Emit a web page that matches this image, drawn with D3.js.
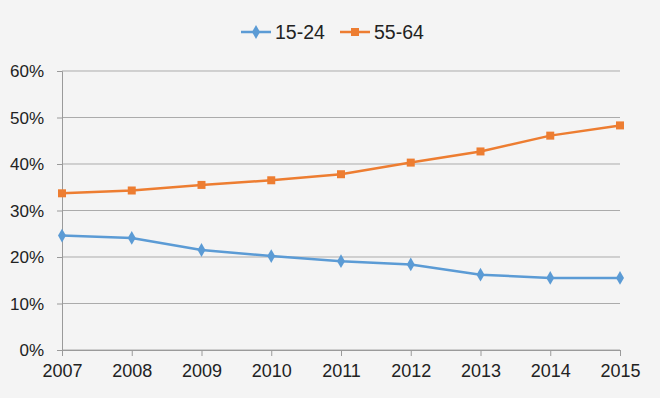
<!DOCTYPE html>
<html>
<head>
<meta charset="utf-8">
<script src="https://cdn.jsdelivr.net/npm/d3@7"></script>
<style>
  body { margin: 0; background: #f4f4f4; }
  svg { display: block; }
  text { font-family: "Liberation Sans", sans-serif; fill: #222; }
</style>
</head>
<body>
<svg id="svg"></svg>
<script>
var years = [2007, 2008, 2009, 2010, 2011, 2012, 2013, 2014, 2015];
var young = [24.6, 24.1, 21.5, 20.2, 19.1, 18.4, 16.2, 15.5, 15.5];
var old = [33.7, 34.3, 35.5, 36.5, 37.8, 40.3, 42.7, 46.1, 48.3];
var yTicks = [0, 10, 20, 30, 40, 50, 60];
var seriesNames = ["15-24", "55-64"];

var width = 660, height = 398;
var margin = {left: 62, right: 40, top: 71, bottom: 48};
var w = width - margin.left - margin.right;
var h = height - margin.top - margin.bottom;

var svg = d3.select("#svg").attr("width", width).attr("height", height);
svg.append("rect").attr("width", width).attr("height", height).attr("fill", "#f4f4f4");

var xScale = d3.scalePoint().domain(years).range([0, w]);
var yScale = d3.scaleLinear().domain([0, 60]).range([h, 0]);

var g = svg.append("g").attr("transform", `translate(${margin.left}, ${margin.top})`);

// gridlines
g.selectAll(".grid")
    .data(yTicks)
    .join("line")
    .attr("x1", 0)
    .attr("x2", w)
    .attr("y1", d => yScale(d))
    .attr("y2", d => yScale(d))
    .attr("stroke", "#ababab")
    .attr("stroke-width", 1);

// y axis
var yAxis = g.append("g")
    .call(d3.axisLeft(yScale).tickValues(yTicks).tickFormat(d => d + "%").tickSize(5).tickPadding(13));
yAxis.select(".domain").attr("stroke", "#9a9a9a");
yAxis.selectAll(".tick line").attr("stroke", "#9a9a9a");
yAxis.selectAll("text").style("font-size", "17px").attr("dy", "0.35em").attr("fill", "#222");

// x axis
var xAxis = g.append("g")
    .attr("transform", `translate(0, ${h})`)
    .call(d3.axisBottom(xScale).tickSize(6).tickPadding(8).tickSizeOuter(0));
xAxis.select(".domain").attr("stroke", "#9a9a9a");
xAxis.selectAll(".tick line").attr("stroke", "#9a9a9a");
xAxis.selectAll("text").style("font-size", "18px").attr("fill", "#222");

var line = d3.line()
    .x((d, i) => xScale(years[i]))
    .y(d => yScale(d));

var blue = "#5b9bd5", orange = "#ed7d31";

g.append("path").datum(young)
    .attr("fill", "none").attr("stroke", blue).attr("stroke-width", 2.5)
    .attr("stroke-linejoin", "round").attr("d", line);
g.append("path").datum(old)
    .attr("fill", "none").attr("stroke", orange).attr("stroke-width", 2.5)
    .attr("stroke-linejoin", "round").attr("d", line);

var diamond = d3.symbol().type(d3.symbolDiamond).size(55);
g.selectAll(".dia")
    .data(young)
    .join("path")
    .attr("transform", (d, i) => `translate(${xScale(years[i])}, ${yScale(d)})`)
    .attr("d", diamond)
    .attr("fill", blue);

g.selectAll(".sq")
    .data(old)
    .join("rect")
    .attr("x", (d, i) => xScale(years[i]) - 4)
    .attr("y", d => yScale(d) - 4)
    .attr("width", 8)
    .attr("height", 8)
    .attr("fill", orange);

// legend
var legend = svg.append("g").attr("transform", "translate(241, 32)");
var lx = [0, 99];
legend.selectAll("line")
    .data(seriesNames)
    .join("line")
    .attr("x1", (d, i) => lx[i])
    .attr("x2", (d, i) => lx[i] + 30)
    .attr("y1", 0).attr("y2", 0)
    .attr("stroke", (d, i) => i == 0 ? blue : orange)
    .attr("stroke-width", 2.5);
legend.append("path")
    .attr("transform", `translate(${lx[0] + 15}, 0)`)
    .attr("d", diamond)
    .attr("fill", blue);
legend.append("rect")
    .attr("x", lx[1] + 11).attr("y", -4).attr("width", 8).attr("height", 8)
    .attr("fill", orange);
legend.selectAll("text")
    .data(seriesNames)
    .join("text")
    .attr("x", (d, i) => lx[i] + 34)
    .attr("y", 0)
    .attr("dy", "0.35em")
    .style("font-size", "19.5px")
    .text(d => d);
</script>
</body>
</html>
